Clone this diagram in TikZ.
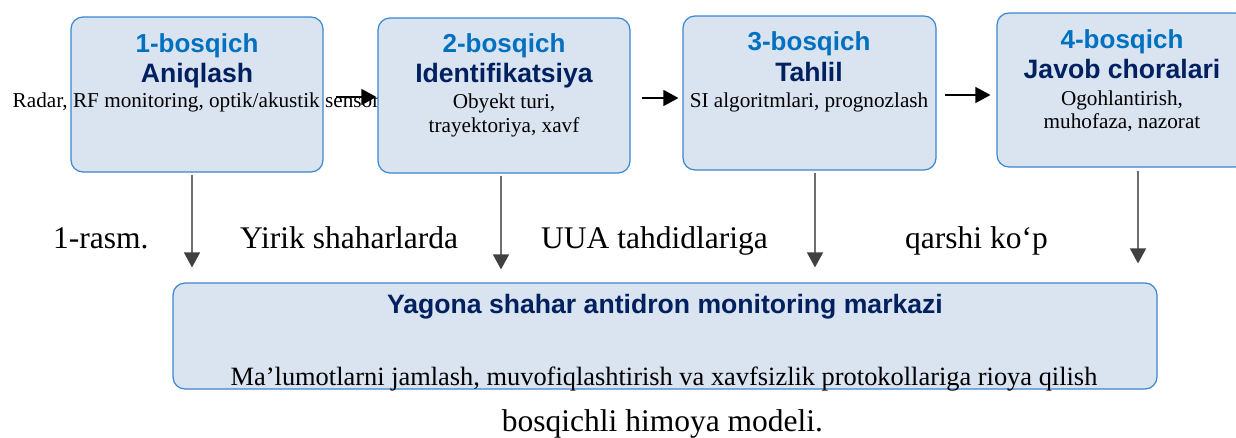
\documentclass[tikz,border=0pt]{standalone}
\usepackage{fontspec}
\setmainfont{Liberation Serif}
\newfontfamily\arialfont{Liberation Sans}
\usetikzlibrary{arrows.meta,calc}
\definecolor{boxfill}{HTML}{DAE3F0}
\definecolor{boxline}{HTML}{3A86D0}
\definecolor{stepblue}{HTML}{0070C0}
\definecolor{navy}{HTML}{002060}
\definecolor{vline}{HTML}{6E6E6E}
\definecolor{vhead}{HTML}{404040}
\begin{document}
\begin{tikzpicture}[x=1pt,y=-1pt,
  stagebox/.style={draw=boxline, fill=boxfill, line width=1.2pt, rounded corners=12pt,
    minimum width=252pt, minimum height=155pt, inner sep=0pt},
  hubbox/.style={draw=boxline, fill=boxfill, line width=1.2pt, rounded corners=12pt,
    minimum width=984pt, minimum height=106pt, inner sep=0pt},
  stagenum/.style={font=\arialfont\bfseries\fontsize{26}{30}\selectfont, text=stepblue,
    anchor=base, inner sep=0pt},
  stagename/.style={font=\arialfont\bfseries\fontsize{26.6}{30}\selectfont, text=navy,
    anchor=base, inner sep=0pt},
  stagetext/.style={font=\fontsize{21.2}{24}\selectfont, anchor=base, inner sep=0pt},
  captext/.style={font=\fontsize{31.5}{36}\selectfont, anchor=base west, inner sep=0pt},
  hconn/.style={line width=1.4pt, -{Triangle[length=15pt,width=16pt]}},
  vconn/.style={draw=vline, line width=1.4pt, -{Triangle[length=15pt,width=16pt,color=vhead]}},
]
\clip (0,0) rectangle (1236,437);
\fill[white] (0,0) rectangle (1236,437);

% Stage 1
\node[stagebox] (b1) at (197,94.5) {};
\node[stagenum]  (b1n) at (197,52) {1-bosqich};
\node[stagename] (b1t) at (197,82) {Aniqlash};
\node[stagetext] (b1d) at (196,107) {Radar, RF monitoring, optik/akustik sensor};

% Stage 2
\node[stagebox] (b2) at (504,95.5) {};
\node[stagenum]  (b2n) at (504,52) {2-bosqich};
\node[stagename] (b2t) at (504,82) {Identifikatsiya};
\node[stagetext] (b2d) at (504,108) {Obyekt turi,};
\node[stagetext] (b2e) at (504,132) {trayektoriya, xavf};
\draw[hconn] ($(b1.east)+(12,2.5)$) -- ($(b2.west)+(-1,1.5)$);

% Stage 3
\node[stagebox, minimum width=253pt, minimum height=154pt] (b3) at (809.5,93) {};
\node[stagenum]  (b3n) at (809,50) {3-bosqich};
\node[stagename] (b3t) at (809,81) {Tahlil};
\node[stagetext] (b3d) at (809,107) {SI algoritmlari, prognozlash};
\draw[hconn] ($(b2.east)+(11,2.5)$) -- ($(b3.west)+(-4,5)$);

% Stage 4
\node[stagebox, minimum width=250pt, minimum height=154pt] (b4) at (1122,90) {};
\node[stagenum]  (b4n) at (1122,48) {4-bosqich};
\node[stagename] (b4t) at (1122,78) {Javob choralari};
\node[stagetext] (b4d) at (1122,105) {Ogohlantirish,};
\node[stagetext] (b4e) at (1122,128) {muhofaza, nazorat};
\draw[hconn] ($(b3.east)+(8,2)$) -- ($(b4.west)+(-6,5)$);

% Monitoring centre
\node[hubbox] (hub) at (665,336) {};
\node[stagename] (hubt) at (665,313) {Yagona shahar antidron monitoring markazi};
\node[font=\fontsize{26.4}{30}\selectfont, anchor=base, inner sep=0pt] (hubd) at (664,385)
  {Ma’lumotlarni jamlash, muvofiqlashtirish va xavfsizlik protokollariga rioya qilish};

% Feeds into the centre
\draw[vconn] ($(b1.south)+(-5,2)$) -- ($(hub.north -| b1.south)+(-5,-15)$);
\draw[vconn] ($(b2.south)+(-3,2)$) -- ($(hub.north -| b2.south)+(-3,-13)$);
\draw[vconn] ($(b3.south)+(5.5,2)$) -- ($(hub.north -| b3.south)+(5.5,-15)$);
\draw[vconn] ($(b4.south)+(16,3)$) -- ($(hub.north -| b4.south)+(16,-19)$);

% Figure caption
\node[captext] (c1) at (53,248) {1-rasm.};
\node[captext] (c2) at (240,248) {Yirik shaharlarda};
\node[captext] (c3) at (541,248) {UUA tahdidlariga};
\node[captext] (c4) at (905,248) {qarshi ko‘p};
\node[font=\fontsize{31.5}{36}\selectfont, anchor=base, inner sep=0pt] (c5) at (662.5,431.5)
  {bosqichli himoya modeli.};
\end{tikzpicture}
\end{document}
